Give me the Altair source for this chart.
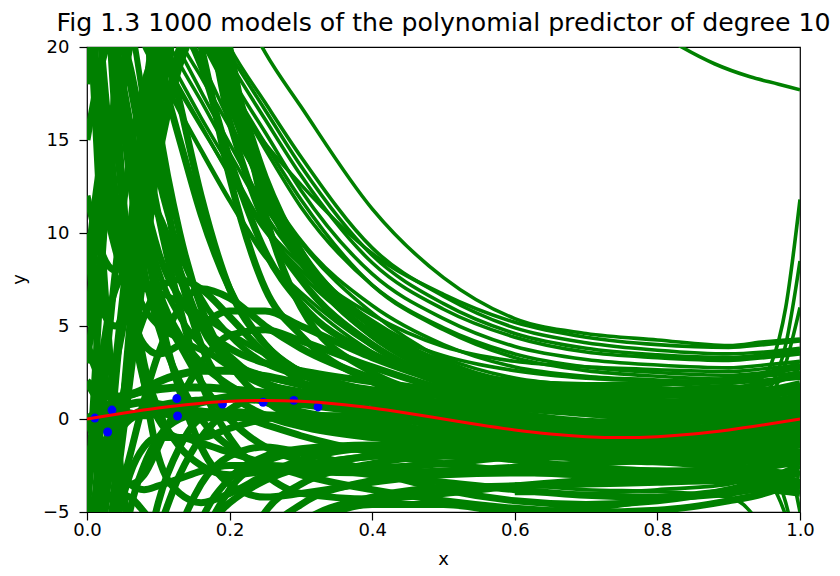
import altair as alt
import pandas as pd

TITLE = "Fig 1.3 1000 models of the polynomial predictor of degree 10"

# shared x grid for most model curves
X = [0.0, 0.02, 0.04, 0.06, 0.08, 0.1, 0.13, 0.16, 0.2, 0.25, 0.3,
     0.4, 0.5, 0.6, 0.7, 0.8, 0.9, 0.95, 1.0]

# upper, slowly decaying models
A_CURVES = [
    [60, 55, 50, 46, 42, 38, 33, 29, 23.5, 19.7, 16.8, 11.3, 7.6, 5.4, 4.6, 4.25, 3.95, 4.15, 4.3],
    [41, 38, 35, 33, 31, 29, 26.2, 23.3, 20, 17, 14.1, 9.2, 6.6, 4.9, 4.1, 3.7, 3.5, 3.6, 3.8],
    [39, 36, 34, 32, 30, 27.6, 25, 22, 19.2, 16.1, 13.1, 8.4, 5.9, 4.4, 3.6, 3.3, 3.15, 3.3, 3.5],
    [38, 35, 33, 31, 29, 27.2, 24.6, 21.4, 18.5, 15.4, 12.3, 7.8, 5.4, 3.9, 3.2, 2.9, 2.75, 2.9, 3.1],
    [38, 35, 33, 31, 29, 27, 23.5, 20.5, 17.8, 14.5, 11.4, 7.2, 4.9, 3.5, 2.8, 2.5, 2.35, 2.5, 2.7],
    [36, 33, 30, 28, 26, 23.6, 20.4, 18.4, 15.7, 12.4, 9.6, 6.1, 4.0, 2.8, 2.3, 2.1, 1.95, 2.05, 2.2],
    [35, 32, 29, 27, 24.6, 21.5, 19.1, 17.1, 14.3, 11.0, 8.4, 5.3, 3.3, 2.2, 1.8, 1.65, 1.55, 1.65, 1.8],
    [34, 31, 28, 25.6, 22.8, 20.4, 18.3, 16.2, 13.6, 10.2, 7.8, 4.7, 2.8, 1.8, 1.4, 1.25, 1.15, 1.25, 1.4],
    [29, 27, 25.2, 23.5, 21, 19.5, 17.6, 15.7, 13.2, 10.3, 8.3, 5.6, 3.9, 3.1, 2.8, 2.65, 2.55, 2.7, 2.9],
    [30, 27, 24.8, 22.3, 20, 18.7, 16.5, 14.4, 11.7, 8.7, 6.8, 3.9, 2.1, 1.3, 1.0, 0.85, 0.75, 0.85, 1.0],
    [37, 34, 31, 29, 27, 25, 22, 20.3, 17.5, 14.8, 12.6, 8.9, 6.7, 5.2, 4.4, 4.0, 3.85, 4.0, 4.2],
    [36, 33, 30, 28, 26, 24, 21, 19.2, 16, 12.3, 9.5, 5.7, 3.2, 1.8, 1.0, 0.6, 0.4, 0.5, 0.7],
    [38, 35, 33, 31, 29, 27, 24.8, 21.8, 19.6, 16.6, 13.6, 8.8, 6.2, 4.6, 3.8, 3.45, 3.3, 3.45, 3.65],
    [37, 34, 32, 30, 28, 26, 23.5, 20.8, 18, 14.8, 11.8, 7.2, 4.8, 3.3, 2.6, 2.3, 2.15, 2.3, 2.5],
    [35, 32, 29, 27, 25, 22, 19.8, 17.6, 14.8, 11.4, 8.8, 5.2, 3.0, 1.8, 1.3, 1.05, 0.95, 1.05, 1.2],
    [33, 30, 27, 24.5, 22, 20, 17.8, 15.8, 13.1, 10.1, 8.0, 5.0, 3.4, 2.6, 2.2, 2.05, 2.0, 2.1, 2.3],
    [30, 27, 25, 23, 20.8, 19, 16.6, 14.5, 11.8, 8.8, 6.6, 3.6, 1.8, 1.0, 0.6, 0.45, 0.4, 0.5, 0.6],
]

# steeper models falling from the top left
B_CURVES = [
    [28, 25, 23, 21.5, 17, 13, 9, 6.5, 4.5, 3.0, 2.3, 1.6, 1.2, 0.9, 0.6, 0.4, 0.3, 0.4, 0.6],
    [30, 26, 22, 18, 14, 11, 7.5, 5.2, 3.4, 2.0, 1.4, 0.9, 0.5, 0.1, -0.3, -0.5, -0.4, -0.2, 0.1],
    [35, 28, 21, 15, 11, 8, 5.5, 4.0, 2.8, 1.9, 1.5, 1.2, 0.8, 0.3, -0.1, -0.2, -0.1, 0.2, 0.6],
    [40, 20, 12, 8, 6, 5, 4.3, 3.7, 3.0, 2.3, 1.8, 1.2, 0.6, 0.0, -0.4, -0.6, -0.5, -0.2, 0.3],
    [30, 14, 9, 7.5, 7, 6.8, 6.3, 5.6, 4.6, 3.5, 2.6, 1.5, 0.7, 0.0, -0.5, -0.8, -0.8, -0.5, 0.0],
]

# wild models near x = 0
L_CURVES = [
    [25, 10, 0, -6, -8, -6, -3, -1, 0.5, 1.2, 1.3, 0.9, 0.2, -0.5, -1.0, -1.1, -0.8, -0.5, -0.1],
    [-20, -8, 2, 9, 12, 11, 8, 5, 3, 1.8, 1.4, 0.9, 0.3, -0.4, -0.9, -1.1, -0.9, -0.6, -0.2],
    [-30, -15, -4, 5, 14, 22, 28, 28, 20, 11, 6, 2.5, 1.2, 0.3, -0.3, -0.6, -0.6, -0.2, 0.6],
    [60, 35, 18, 8, 2, -2, -4, -4.5, -4, -3, -2.2, -1.5, -1.2, -1.2, -1.3, -1.5, -1.6, -1.5, -1.2],
    [-40, -20, -10, -5, -2.5, -1, 0, 0.3, 0.4, 0.2, -0.2, -0.8, -1.4, -1.8, -2.0, -2.0, -1.8, -1.6, -1.4],
    [45, 30, 20, 13, 8, 5, 2, 0, -1.5, -2.5, -2.8, -2.9, -2.8, -2.6, -2.4, -2.2, -2.0, -1.9, -1.8],
    [-15, -9, -5, -2, 1, 3.5, 6, 7, 6.5, 5, 3.8, 2.2, 1.2, 0.6, 0.4, 0.4, 0.6, 0.8, 1.0],
    [15, 19, 21, 19, 15, 11, 6, 2, -1, -3, -4, -4.3, -4, -3.6, -3.3, -3.1, -3.0, -3.1, -3.4],
    [5, 12, 17, 20, 21, 19, 15, 11, 7, 4, 2.5, 1.3, 0.9, 0.7, 0.6, 0.6, 0.8, 1.2, 1.8],
    [-10, 0, 8, 14, 18, 20, 21, 19, 14, 9, 6.2, 3.5, 2.3, 1.7, 1.5, 1.5, 1.6, 1.9, 2.5],
    [10, 6, 5, 7, 10, 14, 19, 21, 17, 12, 8.5, 4.5, 2.7, 2.0, 1.8, 1.9, 2.1, 2.4, 2.9],
    [-5, 3, 7, 8, 7.5, 6, 4, 2, 0, -1.5, -2.2, -2.6, -2.4, -2.0, -1.7, -1.5, -1.4, -1.5, -1.8],
    [25, 16, 10, 6, 4, 3.5, 4, 5, 5.8, 5.8, 5.0, 3.3, 2.0, 1.2, 0.8, 0.7, 0.7, 0.9, 1.2],
    [-8, -5, -4, -4.2, -5, -6, -6.5, -6, -4.5, -3.3, -2.6, -2.0, -1.8, -1.9, -2.0, -2.2, -2.5, -2.8, -3.5],
    [0, -2, -3, -3.5, -3, -1.5, 1, 3, 4.5, 4.8, 4.2, 2.8, 1.6, 0.8, 0.3, 0.0, -0.1, 0.0, 0.3],
    [20, 22, 20, 16, 12, 9, 6.5, 5, 3.8, 3.0, 2.6, 2.0, 1.5, 1.0, 0.6, 0.3, 0.1, 0.0, 0.0],
    [-25, -12, -3, 4, 10, 16, 22, 24, 19, 13, 9, 5, 3, 1.9, 1.5, 1.3, 1.3, 1.5, 1.9],
    [12, 9, 8, 10, 14, 19, 24, 24, 18, 12.5, 9, 5, 2.8, 1.6, 1.1, 0.9, 1.0, 1.3, 1.7],
    [2, 1, 3, 7, 12, 17, 22, 22, 16, 10.5, 7.5, 4, 2.1, 1.1, 0.6, 0.4, 0.3, 0.5, 0.9],
    [18, 25, 30, 28, 22, 16, 10, 6, 3, 1, 0, -0.5, -0.8, -1.0, -1.1, -1.1, -1.0, -0.8, -0.5],
    [-12, -6, -1, 3, 5.5, 7, 7.5, 7, 5.5, 3.5, 2, 0.2, -0.9, -1.6, -2.0, -2.1, -1.9, -1.7, -1.4],
    [8, 14, 16, 14, 10, 6, 1.5, -1.5, -3.5, -4.2, -4.0, -3.4, -3.0, -2.9, -2.9, -3.0, -3.2, -3.4, -3.7],
    [30, 20, 12, 6, 2, 0, -1, -1, -0.5, 0, 0.2, 0.1, -0.3, -0.8, -1.2, -1.3, -1.1, -0.8, -0.4],
    [-10, -4, 3, 10, 17, 22, 24, 20, 13, 7, 4.5, 2, 0.8, 0.1, -0.3, -0.5, -0.4, -0.2, 0.2],
    [3, 9, 15, 20, 23, 22, 17, 12, 7, 4, 2.5, 0.9, 0.0, -0.5, -0.8, -0.9, -0.7, -0.4, 0.0],
    [-18, -10, -4, 2, 8, 14, 20, 22, 18, 12, 8.5, 4.5, 2.4, 1.4, 0.9, 0.8, 0.9, 1.2, 1.6],
    [50, 30, 16, 8, 3, 0.5, -1.5, -2.5, -3, -2.8, -2.5, -2.0, -1.8, -1.8, -1.9, -2.0, -2.1, -2.1, -2.0],
    [35, 26, 19, 14, 10, 7, 4.5, 3, 1.8, 0.9, 0.4, -0.2, -0.7, -1.1, -1.4, -1.5, -1.3, -1.0, -0.6],
    [-5, 8, 18, 24, 22, 15, 8, 4, 1.5, 0.2, -0.4, -1.0, -1.3, -1.5, -1.6, -1.6, -1.5, -1.3, -1.0],
]

# models close to the true curve
C_CURVES = [
    [0, 0.5, 1, 1.3, 1.5, 1.6, 1.7, 1.7, 1.6, 1.4, 1.1, 0.5, -0.2, -0.8, -1.2, -1.3, -1.0, -0.6, 0.0],
    [-3, -1.5, -0.5, 0.1, 0.5, 0.7, 0.9, 1.0, 1.1, 1.0, 0.8, 0.3, -0.4, -1.0, -1.5, -1.6, -1.3, -0.9, -0.3],
    [4, 2, 0.8, 0.3, 0.2, 0.3, 0.6, 0.9, 1.2, 1.4, 1.4, 1.0, 0.4, -0.3, -0.8, -0.9, -0.7, -0.4, 0.2],
    [-6, -3, -1, 0, 0.3, 0.3, 0.2, 0.1, 0.1, 0.1, 0.0, -0.3, -0.8, -1.3, -1.7, -1.8, -1.6, -1.3, -0.8],
    [2, 1.5, 1.2, 1.3, 1.6, 2.0, 2.4, 2.6, 2.6, 2.3, 1.9, 1.1, 0.3, -0.4, -0.8, -0.9, -0.6, -0.2, 0.4],
    [-2, -0.5, 0.4, 0.8, 0.9, 0.8, 0.6, 0.4, 0.3, 0.2, 0.1, -0.5, -1.1, -1.6, -1.9, -1.9, -1.6, -1.2, -0.6],
]

# lower models rising from the bottom
D_CURVES = [
    [-90, -80, -70, -60, -50, -40, -28, -18, -9, -5, -3.5, -2.4, -2.0, -2.0, -2.1, -2.3, -2.6, -2.8, -3.0],
    [-90, -80, -70, -60, -50, -40, -30, -20, -12, -6.5, -4.6, -3.3, -2.8, -2.7, -2.7, -2.8, -3.0, -3.2, -3.5],
    [-90, -80, -70, -60, -50, -40, -30, -22, -14, -8, -5.6, -4.2, -3.7, -3.6, -3.5, -3.4, -3.3, -3.4, -3.7],
    [-60, -50, -40, -30, -22, -15, -9, -5.5, -3.2, -2.0, -1.6, -1.4, -1.5, -1.8, -2.1, -2.3, -2.3, -2.2, -2.0],
    [-90, -80, -70, -60, -50, -40, -30, -20, -13, -8.5, -6.2, -4.6, -4.6, -5.0, -4.8, -4.3, -3.9, -3.8, -4.0],
    [-50, -40, -30, -22, -15, -10, -6, -3.5, -2, -1.5, -1.8, -2.8, -3.8, -4.4, -4.6, -4.4, -3.8, -3.3, -2.5],
    [-20, -12, -6, -3, -1.5, -1.0, -1.0, -1.3, -1.8, -2.4, -3.0, -3.8, -4.4, -4.8, -5.0, -4.9, -4.4, -4.0, -3.3],
    [10, 2, -2, -3.5, -3.8, -3.6, -3.2, -2.8, -2.5, -2.5, -2.6, -3.0, -3.4, -3.8, -4.1, -4.2, -4.0, -3.6, -2.8],
    [-70, -60, -50, -40, -30, -20, -12, -7, -3.8, -2.3, -1.8, -1.6, -1.8, -2.2, -2.6, -2.8, -2.7, -2.5, -2.2],
    [-40, -30, -20, -13, -8, -4.5, -1.5, 0, 0.2, -0.3, -0.9, -1.8, -2.4, -2.8, -3.0, -3.0, -2.8, -2.6, -2.3],
]

# models that swing at the right edge
XR = [0.6, 0.7, 0.8, 0.9, 0.94, 0.96, 0.98, 1.0]
R_CURVES = [
    [1.5, 1.2, 1.0, 1.3, 2.0, 3.0, 6.0, 11.8],
    [0.5, 0.2, 0.0, 0.4, 1.0, 1.8, 4.0, 8.5],
    [-1.5, -1.8, -1.8, -1.4, -1.5, -2.5, -4.5, -8],
    [-2.8, -3.0, -2.9, -2.6, -2.8, -3.5, -5.2, -8],
    [-4.0, -4.0, -3.8, -3.5, -2.8, -1.8, -0.5, 1.5],
    [-0.8, -1.1, -1.2, -0.6, 0.3, 1.3, 3.0, 6.0],
    [-3.5, -3.8, -3.9, -4.2, -5.5, -7, -9, -12],
    [2.0, 1.8, 1.6, 1.8, 1.4, 0.5, -1.5, -5],
]

# the single model visible in the top right corner
XT = [0.75, 0.8, 0.834, 0.88, 0.93, 0.97, 1.0]
T_CURVES = [[22.5, 20.8, 20.0, 19.1, 18.4, 18.0, 17.7]]

# true function (red)
XRED = [0.0, 0.05, 0.1, 0.15, 0.2, 0.25, 0.3, 0.35, 0.4, 0.45, 0.5,
        0.55, 0.6, 0.65, 0.7, 0.75, 0.8, 0.85, 0.9, 0.95, 1.0]
YRED = [0.0, 0.31, 0.59, 0.81, 0.95, 1.0, 0.95, 0.81, 0.59, 0.31, 0.0,
        -0.31, -0.59, -0.81, -0.95, -1.0, -0.95, -0.81, -0.59, -0.31, 0.0]

# training points (blue)
PX = [0.011, 0.029, 0.035, 0.126, 0.127, 0.19, 0.247, 0.29, 0.324]
PY = [0.05, -0.7, 0.48, 1.1, 0.16, 0.8, 0.9, 1.0, 0.65]

# line width per family (bundles of near-identical models are drawn wider)
WIDTH = {"A": 3.6, "B": 6, "L": 7, "C": 8, "D": 7, "R": 3.6, "T": 3.6}

rows = []
for fam, grid, curves in [("A", X, A_CURVES), ("B", X, B_CURVES), ("L", X, L_CURVES),
                          ("C", X, C_CURVES), ("D", X, D_CURVES), ("R", XR, R_CURVES),
                          ("T", XT, T_CURVES)]:
    for i, ys in enumerate(curves):
        for xv, yv in zip(grid, ys):
            rows.append({"curve": f"{fam}{i}", "x": xv, "y": yv, "w": WIDTH[fam]})
models = pd.DataFrame(rows)
truth = pd.DataFrame({"x": XRED, "y": YRED})
pts = pd.DataFrame({"x": PX, "y": PY})

FONT = "DejaVu Sans"
xs = alt.Scale(domain=[0, 1], nice=False, zero=False)
ys_ = alt.Scale(domain=[-5, 20], nice=False, zero=False)
xaxis = alt.Axis(values=[0, 0.2, 0.4, 0.6, 0.8, 1.0], format=".1f", grid=False, domain=False,
                 tickSize=8, tickWidth=1.2, tickColor="black", labelFontSize=18, labelFont=FONT,
                 labelColor="black", labelPadding=1, labelFlush=False, labelOverlap=False,
                 title="x", titleFontSize=18, titleFont=FONT, titleFontWeight="normal",
                 titleColor="black", titleX=356, titleY=47, titleBaseline="middle")
yaxis = alt.Axis(values=[-5, 0, 5, 10, 15, 20], format="d", grid=False, domain=False,
                 tickSize=8, tickWidth=1.2, tickColor="black", labelFontSize=18, labelFont=FONT,
                 labelColor="black", labelPadding=10, labelFlush=False, labelOverlap=False,
                 title="y", titleFontSize=18, titleFont=FONT, titleFontWeight="normal",
                 titleColor="black", titleX=-68, titleY=232, titleAngle=270, titleBaseline="middle")

green = alt.Chart(models).mark_line(color="#008000", clip=True,
                                    interpolate="monotone", strokeCap="butt").encode(
    x=alt.X("x:Q", scale=xs, axis=xaxis),
    y=alt.Y("y:Q", scale=ys_, axis=yaxis),
    strokeWidth=alt.StrokeWidth("w:Q", scale=None),
    detail="curve:N",
)
blue = alt.Chart(pts).mark_circle(color="#0000ff", size=80, opacity=1, clip=True).encode(
    x=alt.X("x:Q", scale=xs), y=alt.Y("y:Q", scale=ys_))
red = alt.Chart(truth).mark_line(color="#ff0000", strokeWidth=3, clip=True,
                                 interpolate="monotone").encode(
    x=alt.X("x:Q", scale=xs), y=alt.Y("y:Q", scale=ys_))

chart = alt.layer(green, blue, red).properties(
    width=713, height=465,
    title=alt.TitleParams(TITLE, fontSize=25.2, font=FONT, fontWeight="normal", color="black",
                          anchor="middle", offset=2),
    autosize=alt.AutoSizeParams(type="none"),
    padding={"left": 79, "top": 39, "right": 32, "bottom": 56},
).configure_view(stroke="black", strokeWidth=1.2)

chart.save("out.html", embed_options={"renderer": "svg", "actions": False})
